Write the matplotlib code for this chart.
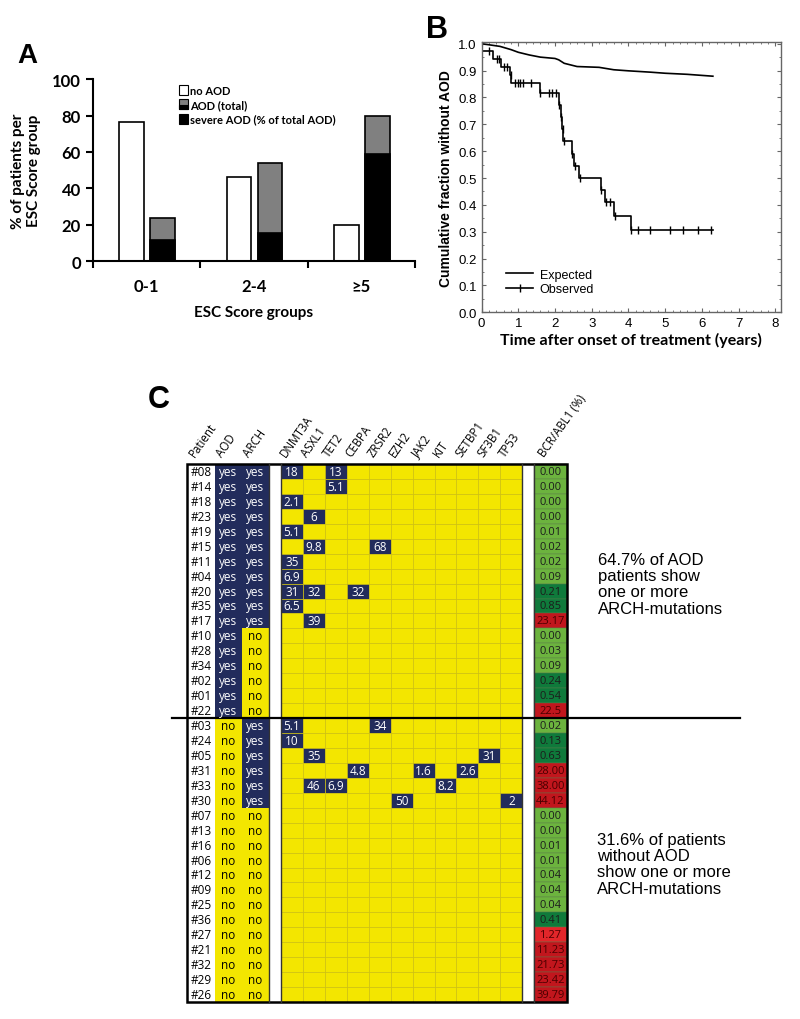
import numpy as np
import matplotlib
matplotlib.use('Agg')
import matplotlib.pyplot as plt
from matplotlib.patches import Rectangle
from matplotlib.lines import Line2D
from matplotlib.legend_handler import HandlerBase
from matplotlib.ticker import MultipleLocator

# ---- panel A data ----
esc_groups = ['0-1', '2-4', '≥5']
no_aod = [76.5, 46.2, 20.0]
aod_total = [23.5, 53.8, 80.0]
aod_severe = [11.8, 15.4, 58.8]

# ---- panel B data ----
exp_t = [0, 0.5, 0.8, 1.0, 1.3, 1.6, 2.0, 2.1, 2.25, 2.6, 3.2, 3.6, 4.0, 4.6, 5.0, 5.6, 6.0, 6.3]
exp_s = [1.0, 0.99, 0.978, 0.968, 0.958, 0.95, 0.945, 0.94, 0.927, 0.915, 0.912, 0.903,
         0.899, 0.894, 0.89, 0.886, 0.882, 0.879]
obs_t = [0, 0.32, 0.53, 0.76, 0.80, 1.58, 2.10, 2.16, 2.20, 2.23, 2.45, 2.53, 2.66,
         3.25, 3.37, 3.62, 4.07, 6.3]
obs_s = [0.971, 0.943, 0.914, 0.885, 0.853, 0.816, 0.772, 0.727, 0.682, 0.636, 0.591,
         0.545, 0.5, 0.455, 0.409, 0.357, 0.307, 0.307]
cens_t = [0.2, 0.42, 0.48, 0.62, 0.7, 0.79, 0.9, 0.98, 1.05, 1.13, 1.35, 1.6, 1.83, 1.93,
          2.04, 2.12, 2.17, 2.21, 2.24, 2.46, 2.55, 2.67, 3.26, 3.38, 3.5, 3.63,
          4.08, 4.27, 4.6, 5.12, 5.48, 5.9, 6.25]

# ---- panel C data ----
patients = ['#08', '#14', '#18', '#23', '#19', '#15', '#11', '#04', '#20', '#35', '#17',
            '#10', '#28', '#34', '#02', '#01', '#22',
            '#03', '#24', '#05', '#31', '#33', '#30', '#07', '#13', '#16', '#06', '#12',
            '#09', '#25', '#36', '#27', '#21', '#32', '#29', '#26']
aod = ['yes'] * 17 + ['no'] * 19
arch = ['yes'] * 11 + ['no'] * 6 + ['yes'] * 6 + ['no'] * 13
genes = ['DNMT3A', 'ASXL1', 'TET2', 'CEBPA', 'ZRSR2', 'EZH2', 'JAK2', 'KIT', 'SETBP1', 'SF3B1', 'TP53']
mutations = [('#08', 'DNMT3A', 18), ('#08', 'TET2', 13), ('#14', 'TET2', 5.1),
             ('#18', 'DNMT3A', 2.1), ('#23', 'ASXL1', 6), ('#19', 'DNMT3A', 5.1),
             ('#15', 'ASXL1', 9.8), ('#15', 'ZRSR2', 68), ('#11', 'DNMT3A', 35),
             ('#04', 'DNMT3A', 6.9), ('#20', 'DNMT3A', 31), ('#20', 'ASXL1', 32),
             ('#20', 'CEBPA', 32), ('#35', 'DNMT3A', 6.5), ('#17', 'ASXL1', 39),
             ('#03', 'DNMT3A', 5.1), ('#03', 'ZRSR2', 34), ('#24', 'DNMT3A', 10),
             ('#05', 'ASXL1', 35), ('#05', 'SF3B1', 31), ('#31', 'CEBPA', 4.8),
             ('#31', 'JAK2', 1.6), ('#31', 'SETBP1', 2.6), ('#33', 'ASXL1', 46),
             ('#33', 'TET2', 6.9), ('#33', 'KIT', 8.2), ('#30', 'EZH2', 50), ('#30', 'TP53', 2)]
bcr_abl = ['0.00', '0.00', '0.00', '0.00', '0.01', '0.02', '0.02', '0.09', '0.21', '0.85',
           '23.17', '0.00', '0.03', '0.09', '0.24', '0.54', '22.5',
           '0.02', '0.13', '0.63', '28.00', '38.00', '44.12', '0.00', '0.00', '0.01', '0.01',
           '0.04', '0.04', '0.04', '0.41', '1.27', '11.23', '21.73', '23.42', '39.79']

NAVY = '#222c5c'
YELLOW = '#f3e600'
BOLDF = 'Lato'

fig = plt.figure(figsize=(8, 10.2), dpi=100)

# ================= Panel A =================
axA = fig.add_axes([0.116, 0.743, 0.403, 0.1784])
x = np.arange(len(esc_groups))
w = 0.23
axA.bar(x - 0.14, no_aod, w, color='white', edgecolor='black', lw=1.2, zorder=2)
axA.bar(x + 0.15, aod_total, w, color='#808080', edgecolor='black', lw=1.2, zorder=2)
axA.bar(x + 0.15, aod_severe, w, color='black', edgecolor='black', lw=1.2, zorder=3)
axA.set_xlim(-0.5, 2.5)
axA.set_ylim(0, 100)
axA.spines['top'].set_visible(False)
axA.spines['right'].set_visible(False)
for s in ['left', 'bottom']:
    axA.spines[s].set_linewidth(1.5)
axA.set_yticks([0, 20, 40, 60, 80, 100])
axA.set_xticks([-0.5, 0.5, 1.5, 2.5])
axA.set_xticklabels([])
axA.set_xticks(x, minor=True)
axA.set_xticklabels(esc_groups, minor=True)
axA.tick_params(axis='x', which='minor', length=0, pad=12)
axA.tick_params(axis='x', which='major', length=5, width=1.5)
axA.tick_params(axis='y', length=5, width=1.5)
for lab in axA.get_yticklabels() + axA.get_xticklabels(minor=True):
    lab.set_fontfamily(BOLDF)
    lab.set_fontweight('bold')
    lab.set_fontsize(12)
axA.set_xlabel('ESC Score groups', fontfamily=BOLDF, fontweight='bold', fontsize=11, labelpad=8)
axA.set_ylabel('% of patients per\nESC Score group', fontfamily=BOLDF, fontweight='bold',
               fontsize=11, labelpad=8)


class HandlerSplit(HandlerBase):
    def create_artists(self, legend, orig_handle, xdescent, ydescent, width, height, fontsize, trans):
        r1 = Rectangle((-xdescent, -ydescent), width, height, fc='#808080', ec='black', lw=0.8, transform=trans)
        r2 = Rectangle((-xdescent, -ydescent), width, height * 0.45, fc='black', ec='black', lw=0.8, transform=trans)
        return [r1, r2]


h_no = Rectangle((0, 0), 1, 1, fc='white', ec='black', lw=0.8)
h_tot = Rectangle((0, 0), 1, 1, fc='#808080', ec='black', lw=0.8)
h_sev = Rectangle((0, 0), 1, 1, fc='black', ec='black', lw=0.8)
axA.legend([h_no, h_tot, h_sev], ['no AOD', 'AOD (total)', 'severe AOD (% of total AOD)'],
           handler_map={h_tot: HandlerSplit()}, loc='upper left', bbox_to_anchor=(0.25, 1.0),
           frameon=False, borderpad=0, handlelength=0.8, handleheight=1.0, handletextpad=0.2,
           labelspacing=0.3, prop={'family': BOLDF, 'weight': 'bold', 'size': 8})
fig.text(0.022, 0.958, 'A', fontfamily='Liberation Sans', fontweight='bold', fontsize=20, va='top')

# ================= Panel B =================
axB = fig.add_axes([0.602, 0.6928, 0.374, 0.2647])
axB.plot(exp_t, exp_s, color='black', lw=1.2)
axB.step(obs_t, obs_s, where='post', color='black', lw=1.2)
idx = np.searchsorted(obs_t, cens_t, side='right') - 1
axB.plot(cens_t, np.array(obs_s)[idx], ls='none', marker='|', ms=6, mew=1, color='black')
axB.set_xlim(0, 8.15)
axB.set_ylim(0, 1.005)
axB.xaxis.set_major_locator(MultipleLocator(1))
axB.xaxis.set_minor_locator(MultipleLocator(0.2))
axB.yaxis.set_major_locator(MultipleLocator(0.1))
axB.yaxis.set_minor_locator(MultipleLocator(0.05))
axB.set_yticklabels([f'{v:.1f}' for v in axB.get_yticks()])
axB.tick_params(which='both', direction='in', top=True, right=True, colors='#666666',
                labelcolor='black', labelsize=9.5)
axB.tick_params(which='major', length=3)
axB.tick_params(which='minor', length=1.5)
for lab in axB.get_xticklabels() + axB.get_yticklabels():
    lab.set_fontfamily('Liberation Sans')
for s in axB.spines.values():
    s.set_color('#666666')
    s.set_linewidth(1)
axB.set_xlabel('Time after onset of treatment (years)', fontfamily=BOLDF, fontweight='bold',
               fontsize=11.5, labelpad=2)
axB.set_ylabel('Cumulative fraction without AOD', fontfamily='Liberation Sans', fontweight='bold',
               fontsize=10, labelpad=4)
lg = [Line2D([], [], color='black', lw=1.2),
      Line2D([], [], color='black', lw=1.2, marker='|', ms=6, markevery=[1])]
axB.legend(lg, ['Expected', 'Observed'], loc='lower left', bbox_to_anchor=(0.06, 0.04),
           frameon=False, borderpad=0, handlelength=2.2, handletextpad=0.5, labelspacing=0.2,
           prop={'family': 'Liberation Sans', 'size': 9})
fig.text(0.532, 0.985, 'B', fontfamily='Liberation Sans', fontweight='bold', fontsize=22, va='top')

# ================= Panel C =================
axC = fig.add_axes([0, 0, 1, 1])
axC.set_xlim(0, 800)
axC.set_ylim(1020, 0)
axC.axis('off')

x_pat, x_aod, x_arch, x_end1 = 187, 215, 242, 269
g0, g1 = 281, 522.3
gw = (g1 - g0) / len(genes)
b0, b1 = 534, 567
y0 = 465
rh = 538 / len(patients)
TF = 'Open Sans'


def bcr_color(v):
    if v < 0.1:
        return '#6cb33e'
    if v < 1:
        return '#0f7a3b'
    if v < 10:
        return '#e2262a'
    return '#c1161d'


mut_map = {(p, g): v for p, g, v in mutations}
for i, p in enumerate(patients):
    y = y0 + i * rh
    yc = y + rh / 2
    axC.text((x_pat + x_aod) / 2 + 0.5, yc, p, ha='center', va='center', fontsize=8.5, family=TF)
    for (xa, xb), val in [((x_aod, x_arch), aod[i]), ((x_arch, x_end1), arch[i])]:
        fc = NAVY if val == 'yes' else YELLOW
        axC.add_patch(Rectangle((xa, y), xb - xa, rh, fc=fc, ec='none'))
        axC.text((xa + xb) / 2, yc, val, ha='center', va='center', fontsize=8.5, family=TF,
                 color='white' if val == 'yes' else 'black')
    for j, g in enumerate(genes):
        gx = g0 + j * gw
        v = mut_map.get((p, g))
        axC.add_patch(Rectangle((gx, y), gw, rh, fc=YELLOW if v is None else NAVY,
                                ec='#cdbf10', lw=0.5))
        if v is not None:
            axC.text(gx + gw / 2, yc, f'{v:g}', ha='center', va='center', fontsize=8.5,
                     family=TF, color='white')
    bv = float(bcr_abl[i])
    axC.add_patch(Rectangle((b0, y), b1 - b0, rh, fc=bcr_color(bv), ec='#5a7a4a', lw=0.3))
    axC.text((b0 + b1) / 2, yc, bcr_abl[i], ha='center', va='center', fontsize=8, family=TF,
             color='#1c1c1c' if bv < 1 else '#4a0000')

y_end = y0 + len(patients) * rh
for xv in [x_end1, g0, g1, b0]:
    axC.plot([xv, xv], [y0, y_end], color='#333333', lw=1)
axC.add_patch(Rectangle((x_pat, y0), b1 - x_pat, y_end - y0, fc='none', ec='black', lw=1.8))
axC.plot([172, 740], [y0 + 17 * rh, y0 + 17 * rh], color='black', lw=1.6)

headers = ['Patient', 'AOD', 'ARCH'] + genes + ['BCR/ABL1 (%)']
centers = [(x_pat + x_aod) / 2, (x_aod + x_arch) / 2, (x_arch + x_end1) / 2] + \
          [g0 + (j + 0.5) * gw for j in range(len(genes))] + [(b0 + b1) / 2]
for htxt, cx in zip(headers, centers):
    axC.text(cx - 4, 460, htxt, rotation=55, rotation_mode='anchor', ha='left', va='bottom',
             fontsize=8.3, family=TF)

axC.text(598, 553, '64.7% of AOD\npatients show\none or more\nARCH-mutations', ha='left',
         va='top', fontsize=12, family='Liberation Sans', linespacing=1.1)
axC.text(597, 833, '31.6% of patients\nwithout AOD\nshow one or more\nARCH-mutations', ha='left',
         va='top', fontsize=12, family='Liberation Sans', linespacing=1.1)
axC.text(148, 415, 'C', fontfamily='Liberation Sans', fontweight='bold', fontsize=22, va='bottom')

fig.savefig('out.png', dpi=100)
